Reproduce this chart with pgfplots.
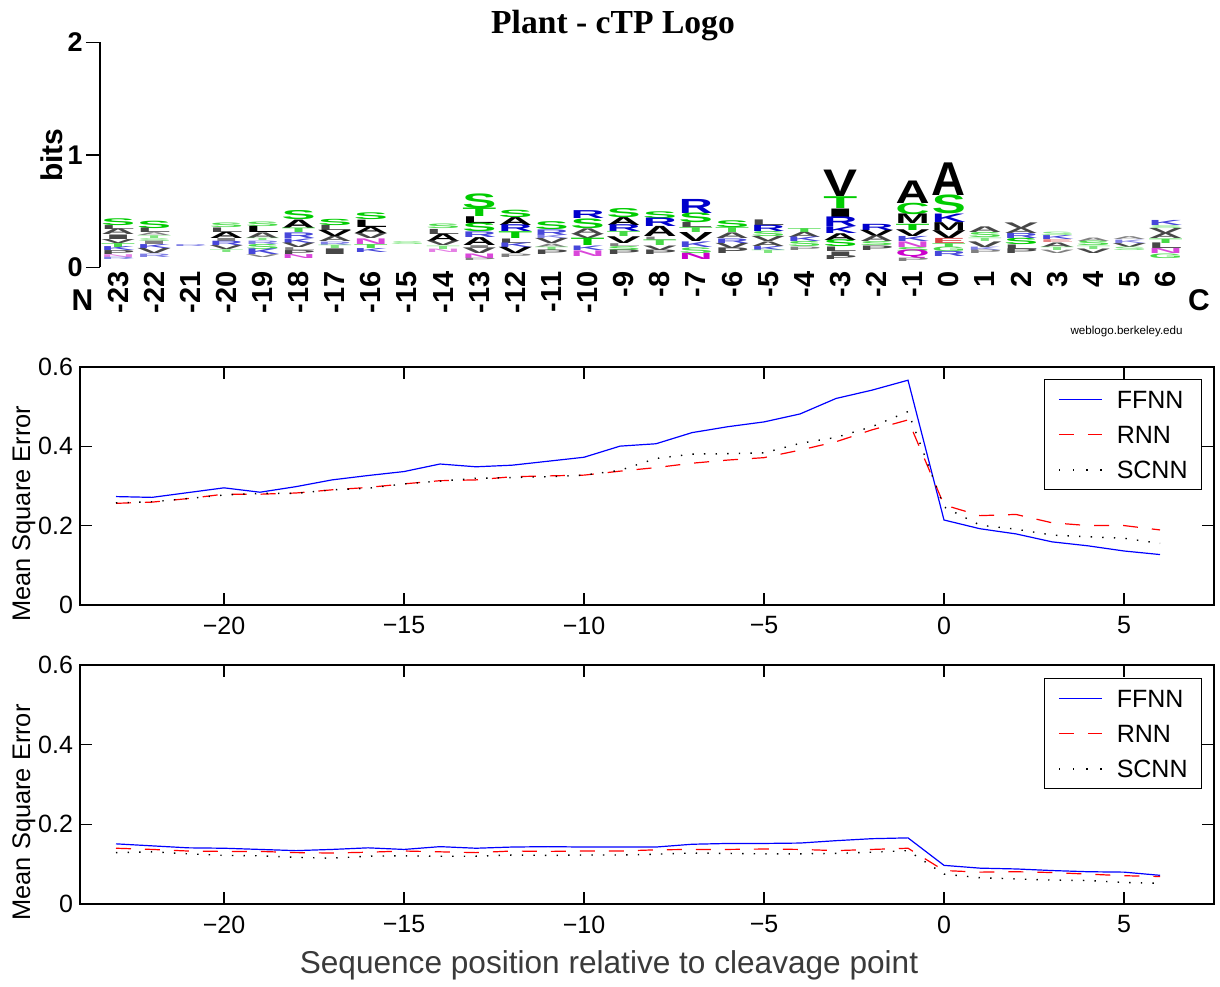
\documentclass[border=0pt]{standalone}
\usepackage{fontspec}
\setmainfont{Liberation Sans}
\newfontfamily\titlefont{Liberation Serif}
\usepackage{graphicx}
\usepackage{pgfplots}
\usepackage{pgfplotstable}
\pgfplotsset{compat=1.18}
\definecolor{logog}{RGB}{0,204,0}
\definecolor{logob}{RGB}{0,0,204}
\definecolor{logok}{RGB}{0,0,0}
\definecolor{logor}{RGB}{204,0,0}
\definecolor{logom}{RGB}{204,0,204}
\definecolor{mseblue}{RGB}{0,0,255}
\definecolor{msered}{RGB}{255,0,0}
\newlength\bitlen
\setlength\bitlen{56.25pt}
% each letter: position, bottom of the letter (bits), colour/letter/height (bits)
\def\logoletter#1/#2/#3\relax{%
  \ifdim#3pt<0.031pt\def\lc{logo#1!50!white}\else
  \ifdim#3pt<0.051pt\def\lc{logo#1!72!white}\else
  \def\lc{logo#1}\fi\fi
  \textcolor{\lc}{\resizebox{17pt}{#3\bitlen}{#2}}}
\newcommand\legdash{\rule[-0.3pt]{7.5pt}{0.6pt}\hspace*{7pt}\rule[-0.3pt]{7pt}{0.6pt}}
\newcommand\legdot{\rule[-0.35pt]{0.7pt}{0.7pt}\hspace*{6.2pt}\rule[-0.35pt]{0.7pt}{0.7pt}\hspace*{6.2pt}\rule[-0.35pt]{0.7pt}{0.7pt}\hspace*{6.2pt}\rule[-0.35pt]{0.7pt}{0.7pt}}
\pgfplotstableread{
x y s
-23 0.375 g/S/0.060
-23 0.340 k/L/0.035
-23 0.290 k/A/0.050
-23 0.250 k/I/0.040
-23 0.215 k/V/0.035
-23 0.180 g/T/0.035
-23 0.145 b/K/0.035
-23 0.110 k/P/0.035
-23 0.085 m/N/0.025
-23 0.065 b/R/0.020
-22 0.345 g/S/0.065
-22 0.305 k/L/0.040
-22 0.280 k/A/0.025
-22 0.255 g/T/0.025
-22 0.230 g/S/0.025
-22 0.200 k/I/0.030
-22 0.165 b/K/0.035
-22 0.120 k/V/0.045
-22 0.090 b/R/0.030
-21 0.184 b/R/0.016
-20 0.350 g/S/0.040
-20 0.310 k/L/0.040
-20 0.255 k/A/0.055
-20 0.228 k/I/0.027
-20 0.190 b/R/0.038
-20 0.155 k/V/0.035
-20 0.130 g/T/0.025
-19 0.360 g/S/0.040
-19 0.305 k/L/0.055
-19 0.255 k/A/0.050
-19 0.235 g/T/0.020
-19 0.205 b/R/0.030
-19 0.160 g/S/0.045
-19 0.110 b/K/0.050
-19 0.085 k/V/0.025
-18 0.420 g/S/0.080
-18 0.345 k/A/0.075
-18 0.305 g/T/0.040
-18 0.255 b/R/0.050
-18 0.215 b/K/0.040
-18 0.175 k/V/0.040
-18 0.150 k/L/0.025
-18 0.115 k/P/0.035
-18 0.080 m/N/0.035
-17 0.370 g/S/0.055
-17 0.325 k/L/0.045
-17 0.270 k/V/0.055
-17 0.225 k/A/0.045
-17 0.195 b/R/0.030
-17 0.165 g/T/0.030
-17 0.115 k/I/0.050
-16 0.420 g/S/0.060
-16 0.355 k/L/0.065
-16 0.300 k/A/0.055
-16 0.255 k/V/0.045
-16 0.205 m/N/0.050
-16 0.170 g/T/0.035
-16 0.135 b/K/0.035
-15 0.200 g/S/0.025
-14 0.340 g/S/0.040
-14 0.295 k/L/0.045
-14 0.230 k/A/0.065
-14 0.190 k/V/0.040
-14 0.160 g/T/0.030
-14 0.130 m/N/0.030
-13 0.525 g/S/0.130
-13 0.450 g/T/0.075
-13 0.390 k/L/0.060
-13 0.315 g/S/0.075
-13 0.265 b/R/0.050
-13 0.195 k/A/0.070
-13 0.170 k/I/0.025
-13 0.120 k/V/0.050
-13 0.080 m/N/0.040
-13 0.060 k/P/0.020
-12 0.445 g/S/0.065
-12 0.375 k/A/0.070
-12 0.315 b/R/0.060
-12 0.255 g/T/0.060
-12 0.215 k/L/0.040
-12 0.175 b/K/0.040
-12 0.120 k/V/0.055
-12 0.090 k/P/0.030
-11 0.335 g/S/0.070
-11 0.285 b/R/0.050
-11 0.255 b/K/0.030
-11 0.210 k/V/0.045
-11 0.180 k/A/0.030
-11 0.150 g/T/0.030
-11 0.110 k/P/0.040
-10 0.430 b/R/0.070
-10 0.345 g/S/0.085
-10 0.295 k/A/0.050
-10 0.255 k/V/0.040
-10 0.190 g/T/0.065
-10 0.150 b/K/0.040
-10 0.100 m/N/0.050
-9 0.445 g/S/0.080
-9 0.375 k/A/0.070
-9 0.315 b/R/0.060
-9 0.270 g/T/0.045
-9 0.210 k/V/0.060
-9 0.185 k/L/0.025
-9 0.150 g/S/0.035
-9 0.110 k/P/0.040
-8 0.435 g/S/0.060
-8 0.360 b/R/0.075
-8 0.270 k/A/0.090
-8 0.240 k/L/0.030
-8 0.190 g/T/0.050
-8 0.150 k/V/0.040
-8 0.110 k/P/0.040
-7 0.480 b/R/0.125
-7 0.395 g/S/0.085
-7 0.350 k/L/0.045
-7 0.305 g/T/0.045
-7 0.225 k/V/0.080
-7 0.175 b/K/0.050
-7 0.125 g/S/0.050
-7 0.070 m/N/0.055
-6 0.350 g/S/0.060
-6 0.305 g/T/0.045
-6 0.255 k/A/0.050
-6 0.215 b/R/0.040
-6 0.170 k/V/0.045
-6 0.120 k/P/0.050
-5 0.370 k/L/0.050
-5 0.315 b/R/0.055
-5 0.270 g/S/0.045
-5 0.225 k/V/0.045
-5 0.185 k/A/0.040
-5 0.150 b/K/0.035
-5 0.120 g/T/0.030
-4 0.310 g/T/0.035
-4 0.265 k/A/0.045
-4 0.225 b/K/0.040
-4 0.180 g/S/0.045
-4 0.150 k/P/0.030
-3 0.625 k/V/0.235
-3 0.520 g/T/0.105
-3 0.445 k/I/0.075
-3 0.360 b/R/0.085
-3 0.300 b/K/0.060
-3 0.240 k/A/0.060
-3 0.180 g/S/0.060
-3 0.140 k/L/0.040
-3 0.100 k/I/0.040
-3 0.065 k/P/0.035
-2 0.330 b/R/0.055
-2 0.275 k/V/0.055
-2 0.225 k/A/0.050
-2 0.190 g/S/0.035
-2 0.150 k/P/0.040
-1 0.570 k/A/0.200
-1 0.470 g/C/0.100
-1 0.385 k/M/0.085
-1 0.330 g/T/0.055
-1 0.270 k/V/0.060
-1 0.225 b/K/0.045
-1 0.175 m/N/0.050
-1 0.140 g/S/0.035
-1 0.080 m/Q/0.060
-1 0.050 k/P/0.030
0 0.640 k/A/0.290
0 0.475 g/S/0.165
0 0.400 b/K/0.075
0 0.330 k/M/0.070
0 0.260 k/V/0.070
0 0.215 r/E/0.045
0 0.180 g/T/0.035
0 0.140 g/G/0.040
0 0.095 b/R/0.045
1 0.305 k/A/0.050
1 0.260 g/S/0.045
1 0.230 g/T/0.030
1 0.180 k/V/0.050
1 0.150 b/K/0.030
1 0.120 k/P/0.030
2 0.345 k/V/0.050
2 0.300 k/A/0.045
2 0.255 b/R/0.045
2 0.200 g/S/0.055
2 0.160 k/L/0.040
2 0.120 k/P/0.040
3 0.280 g/S/0.030
3 0.245 b/K/0.035
3 0.220 r/E/0.025
3 0.180 k/A/0.040
3 0.150 g/T/0.030
3 0.120 k/V/0.030
4 0.230 k/A/0.030
4 0.190 g/S/0.040
4 0.160 g/T/0.030
4 0.120 k/V/0.040
5 0.245 k/A/0.025
5 0.215 b/K/0.030
5 0.180 k/V/0.035
5 0.150 g/S/0.030
6 0.370 b/K/0.045
6 0.345 g/S/0.025
6 0.300 k/V/0.045
6 0.255 k/A/0.045
6 0.215 g/T/0.040
6 0.165 k/L/0.050
6 0.120 m/N/0.045
6 0.080 g/G/0.040
}\logodata
\pgfplotsset{
  ffnn/.style={draw=mseblue, color=mseblue, line width=0.6pt},
  rnn/.style={draw=msered, color=msered, line width=0.6pt, dash pattern=on 7.5pt off 7pt},
  scnn/.style={draw=black, color=black, line width=0.7pt, dash pattern=on 0.7pt off 5.1pt},
  ffnnleg/.style={legend image code/.code={\node[inner sep=0pt, anchor=west] at (0pt,4.4pt) {\textcolor{mseblue}{\rule[-0.3pt]{21.5pt}{0.6pt}}};}},
  rnnleg/.style={legend image code/.code={\node[inner sep=0pt, anchor=west] at (0pt,4.4pt) {\textcolor{msered}{\legdash}};}},
  scnnleg/.style={legend image code/.code={\node[inner sep=0pt, anchor=west] at (0pt,4.4pt) {\textcolor{black}{\legdot}};}},
  mse/.style={
    scale only axis, width=567pt,
    xmin=-24, xmax=7.5, ymin=0, ymax=0.6,
    xtick={-20,-15,-10,-5,0,5}, xticklabels={−20,−15,−10,−5,0,5},
    ytick={0,0.2,0.4,0.6}, yticklabels={0,0.2,0.4,0.6},
    tick align=inside, xtick pos=both, ytick pos=both, major tick length=6pt,
    tick style={black, line width=0.6pt},
    axis line style={line width=0.8pt},
    tick label style={font=\fontsize{12.5}{15}\selectfont},
    xticklabel style={yshift=-2.3pt},
    legend cell align=left,
    legend style={anchor=north east,
      font=\fontsize{12.5}{15}\selectfont,
      inner xsep=7pt, inner ysep=1pt, row sep=0pt,
      /tikz/every odd column/.style={column sep=7.5pt},
      nodes={inner xsep=0pt, inner ysep=1.75pt, text height=9pt, text depth=2.5pt}},
  },
}
\begin{document}
\begin{tikzpicture}
\path (0,0) rectangle (610pt,-492pt);
% ---------------- middle plot ----------------
\begin{axis}[mse, at={(40pt,-183.35pt)}, anchor=north west, height=119.15pt,
  legend style={at={(axis description cs:0.9894,0.948)}}]
\addplot[ffnn, forget plot] coordinates {(-23,0.273)(-22,0.271)(-21,0.283)(-20,0.295)(-19,0.284)(-18,0.298)(-17,0.315)(-16,0.326)(-15,0.336)(-14,0.355)(-13,0.348)(-12,0.352)(-11,0.362)(-10,0.372)(-9,0.400)(-8,0.406)(-7,0.434)(-6,0.449)(-5,0.461)(-4,0.481)(-3,0.520)(-2,0.541)(-1,0.566)(0,0.214)(1,0.192)(2,0.179)(3,0.159)(4,0.149)(5,0.136)(6,0.127)};
\addplot[rnn, forget plot] coordinates {(-23,0.256)(-22,0.259)(-21,0.268)(-20,0.279)(-19,0.279)(-18,0.282)(-17,0.290)(-16,0.296)(-15,0.305)(-14,0.313)(-13,0.315)(-12,0.323)(-11,0.325)(-10,0.327)(-9,0.337)(-8,0.346)(-7,0.357)(-6,0.365)(-5,0.371)(-4,0.390)(-3,0.411)(-2,0.441)(-1,0.466)(0,0.252)(1,0.225)(2,0.228)(3,0.207)(4,0.200)(5,0.200)(6,0.189)};
\addplot[scnn, forget plot] coordinates {(-23,0.257)(-22,0.260)(-21,0.268)(-20,0.277)(-19,0.281)(-18,0.281)(-17,0.290)(-16,0.294)(-15,0.305)(-14,0.312)(-13,0.319)(-12,0.321)(-11,0.323)(-10,0.327)(-9,0.339)(-8,0.369)(-7,0.380)(-6,0.381)(-5,0.383)(-4,0.407)(-3,0.422)(-2,0.449)(-1,0.487)(0,0.247)(1,0.201)(2,0.191)(3,0.176)(4,0.172)(5,0.168)(6,0.155)};
\addlegendimage{ffnnleg}\addlegendentry{FFNN}
\addlegendimage{rnnleg}\addlegendentry{RNN}
\addlegendimage{scnnleg}\addlegendentry{SCNN}
\end{axis}
% ---------------- bottom plot ----------------
\begin{axis}[mse, at={(40pt,-332.5pt)}, anchor=north west, height=119.5pt,
  legend style={at={(axis description cs:0.9894,0.9456)}}]
\addplot[ffnn, forget plot] coordinates {(-23,0.151)(-22,0.146)(-21,0.141)(-20,0.140)(-19,0.137)(-18,0.134)(-17,0.137)(-16,0.141)(-15,0.137)(-14,0.144)(-13,0.140)(-12,0.143)(-11,0.144)(-10,0.143)(-9,0.143)(-8,0.143)(-7,0.150)(-6,0.152)(-5,0.152)(-4,0.153)(-3,0.159)(-2,0.164)(-1,0.166)(0,0.097)(1,0.090)(2,0.088)(3,0.084)(4,0.081)(5,0.080)(6,0.072)};
\addplot[rnn, forget plot] coordinates {(-23,0.140)(-22,0.137)(-21,0.133)(-20,0.132)(-19,0.132)(-18,0.129)(-17,0.128)(-16,0.130)(-15,0.133)(-14,0.131)(-13,0.129)(-12,0.133)(-11,0.132)(-10,0.133)(-9,0.133)(-8,0.136)(-7,0.137)(-6,0.137)(-5,0.138)(-4,0.137)(-3,0.134)(-2,0.137)(-1,0.140)(0,0.084)(1,0.080)(2,0.081)(3,0.079)(4,0.075)(5,0.071)(6,0.069)};
\addplot[scnn, forget plot] coordinates {(-23,0.129)(-22,0.131)(-21,0.126)(-20,0.122)(-19,0.121)(-18,0.117)(-17,0.115)(-16,0.120)(-15,0.121)(-14,0.120)(-13,0.120)(-12,0.123)(-11,0.122)(-10,0.123)(-9,0.123)(-8,0.125)(-7,0.128)(-6,0.127)(-5,0.126)(-4,0.126)(-3,0.127)(-2,0.130)(-1,0.134)(0,0.075)(1,0.066)(2,0.063)(3,0.060)(4,0.059)(5,0.054)(6,0.052)};
\addlegendimage{ffnnleg}\addlegendentry{FFNN}
\addlegendimage{rnnleg}\addlegendentry{RNN}
\addlegendimage{scnnleg}\addlegendentry{SCNN}
\end{axis}
% ---------------- sequence logo ----------------
\begin{axis}[
  at={(50pt,-133.65pt)}, anchor=south west,
  scale only axis, width=541.8pt, height=112.5pt,
  xmin=-23.5, xmax=6.5, ymin=0, ymax=2,
  axis lines*=left, clip=false,
  x axis line style={draw=none},
  y axis line style={line width=0.8pt},
  xtick={-23,-22,...,6},
  xticklabels={-23,-22,-21,-20,-19,-18,-17,-16,-15,-14,-13,-12,-11,-10,-9,-8,-7,-6,-5,-4,-3,-2,-1,0,1,2,3,4,5,6},
  xtick style={draw=none}, xtick align=inside,
  xticklabel style={rotate=90, anchor=east, inner sep=2pt, font=\fontsize{14.5}{17}\selectfont\bfseries},
  ytick={0,1,2}, yticklabels={0,1,2},
  ytick align=outside, major tick length=7pt,
  ytick style={black, line width=0.8pt},
  yticklabel style={inner xsep=1.5pt, font=\fontsize{13.5}{16}\selectfont\bfseries},
]
\addplot[draw=none, mark=none,
  point meta=explicit symbolic,
  nodes near coords align={center},
  nodes near coords={\expandafter\logoletter\pgfplotspointmeta\relax},
  every node near coord/.append style={anchor=south, inner sep=0pt, outer sep=0pt, font=\bfseries},
] table[x=x, y=y, meta=s] {\logodata};
\end{axis}
\node[anchor=base, font=\titlefont\bfseries\fontsize{16.8}{20}\selectfont] at (306.5pt,-16.5pt) {Plant - cTP Logo};
\node[anchor=base, rotate=90, font=\bfseries\fontsize{15}{18}\selectfont] at (31pt,-77.5pt) {bits};
\node[anchor=base, font=\bfseries\fontsize{15}{18}\selectfont] at (41.25pt,-155pt) {N};
\node[anchor=base, font=\bfseries\fontsize{15}{18}\selectfont] at (599.5pt,-155pt) {C};
\node[anchor=base east, inner sep=0pt, font=\fontsize{5.8}{7}\selectfont] at (591.5pt,-167pt) {weblogo.berkeley.edu};
% ---------------- labels ----------------
\node[anchor=base, rotate=90, font=\fontsize{12.7}{15}\selectfont] at (15pt,-256.9pt) {Mean Square Error};
\node[anchor=base, rotate=90, font=\fontsize{12.7}{15}\selectfont] at (15pt,-406.2pt) {Mean Square Error};
\node[anchor=base, text={rgb,255:red,58;green,58;blue,58}, font=\fontsize{15.8}{19}\selectfont] at (304.5pt,-486.5pt) {Sequence position relative to cleavage point};
\end{tikzpicture}
\end{document}
